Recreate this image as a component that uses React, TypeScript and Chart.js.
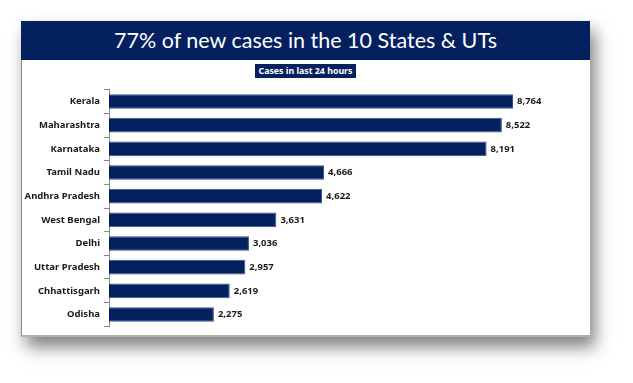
import React, { useEffect, useRef } from "react";
import { Chart, registerables } from "chart.js";

Chart.register(...registerables);

const states = [
  "Kerala",
  "Maharashtra",
  "Karnataka",
  "Tamil Nadu",
  "Andhra Pradesh",
  "West Bengal",
  "Delhi",
  "Uttar Pradesh",
  "Chhattisgarh",
  "Odisha",
];
const cases = [8764, 8522, 8191, 4666, 4622, 3631, 3036, 2957, 2619, 2275];
const titleText = "77% of new cases in the 10 States & UTs";
const subtitleText = "Cases in last 24 hours";
const xMin = 0;
const xMax = 10000;

const NAVY = "#04205f";
const LABEL_FONT = "Noto Sans";

const valueLabels = {
  id: "valueLabels",
  afterDatasetsDraw(chart: any) {
    const ctx = chart.ctx;
    const meta = chart.getDatasetMeta(0);
    const data = chart.data.datasets[0].data as number[];
    ctx.save();
    ctx.font = `bold 9.5px "${LABEL_FONT}"`;
    ctx.fillStyle = "#1a1a1a";
    ctx.textAlign = "left";
    ctx.textBaseline = "middle";
    meta.data.forEach((bar: any, i: number) => {
      ctx.fillText(data[i].toLocaleString("en-US"), bar.x + 4, bar.y);
    });
    ctx.restore();
  },
};

export default function App() {
  const canvasRef = useRef<HTMLCanvasElement | null>(null);

  useEffect(() => {
    if (!canvasRef.current) return;
    const chart = new Chart(canvasRef.current, {
      type: "bar",
      data: {
        labels: states,
        datasets: [
          {
            data: cases,
            backgroundColor: NAVY,
            borderColor: "#34508f",
            borderWidth: 1,
            barPercentage: 0.62,
            categoryPercentage: 1,
          },
        ],
      },
      options: {
        indexAxis: "y",
        animation: false,
        responsive: false,
        maintainAspectRatio: false,
        layout: { padding: { top: 6, bottom: 6, right: 12, left: 0 } },
        plugins: {
          legend: { display: false },
          tooltip: { enabled: false },
          title: { display: false },
        },
        scales: {
          x: {
            display: false,
            min: xMin,
            max: xMax,
          },
          y: {
            grid: {
              display: true,
              drawOnChartArea: false,
              drawTicks: true,
              tickLength: 5,
              color: "#8a8a8a",
              offset: true,
            },
            border: { display: true, color: "#8a8a8a", width: 1 },
            ticks: {
              color: "#1a1a1a",
              font: { family: LABEL_FONT, weight: "bold", size: 9.5 },
              padding: 4,
            },
            afterFit: (s: any) => {
              s.width = 87;
            },
          },
        },
      },
      plugins: [valueLabels],
    });
    return () => chart.destroy();
  }, []);

  return (
    <div
      style={{
        position: "fixed",
        left: 0,
        top: 0,
        width: 633,
        height: 383,
        background: "#ffffff",
        overflow: "hidden",
      }}
    >
      <div
        style={{
          position: "absolute",
          left: 21,
          top: 21,
          width: 569,
          height: 316,
          background: "#ffffff",
          borderLeft: "1px solid #8c8c8c",
          borderBottom: "2px solid #b0b0b0",
          boxSizing: "border-box",
          boxShadow: "5px 10px 16px rgba(0,0,0,0.5)",
        }}
      />
      <div
        style={{
          position: "absolute",
          left: 21,
          top: 21,
          width: 569,
          height: 39,
          background: NAVY,
          color: "#ffffff",
          fontFamily: "Lato, 'Open Sans', sans-serif",
          fontSize: 21.5,
          lineHeight: "39px",
          textAlign: "center",
        }}
      >
        {titleText}
      </div>
      <div
        style={{
          position: "absolute",
          left: 255,
          top: 64,
          width: 101,
          height: 14,
          background: NAVY,
          color: "#ffffff",
          fontFamily: `'${LABEL_FONT}', sans-serif`,
          fontWeight: "bold",
          fontSize: 8.8,
          lineHeight: "14px",
          textAlign: "center",
          whiteSpace: "nowrap",
        }}
      >
        {subtitleText}
      </div>
      <canvas
        ref={canvasRef}
        width={560}
        height={256}
        style={{ position: "absolute", left: 22, top: 80, width: 560, height: 256 }}
      />
    </div>
  );
}
